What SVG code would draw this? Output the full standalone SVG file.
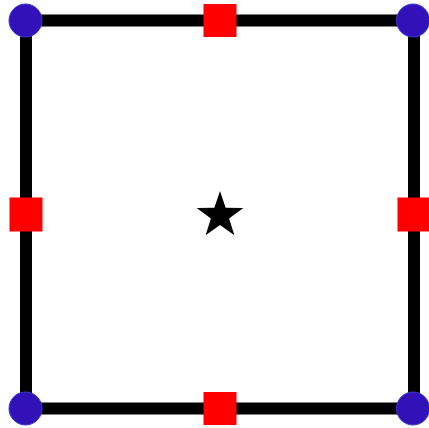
<svg xmlns="http://www.w3.org/2000/svg" width="429" height="428" viewBox="0 0 429 428">
<style>
.edge{fill:none;stroke:#000;stroke-width:12}
.corner{fill:#3311b8;stroke:#3a3ad0;stroke-width:1}
.mid{fill:#ff0000}
</style>
<rect width="429" height="428" fill="#fff"/>
<g id="connectors">
<rect class="edge" x="26" y="20.5" width="388" height="388"/>
</g>
<g id="c-tl"><circle class="corner" cx="25.5" cy="20.5" r="16.5"/></g>
<g id="c-tr"><circle class="corner" cx="413" cy="20.5" r="16.5"/></g>
<g id="c-bl"><circle class="corner" cx="25.5" cy="408.5" r="16.5"/></g>
<g id="c-br"><circle class="corner" cx="413" cy="408.5" r="16.5"/></g>
<g id="m-top"><rect class="mid" x="203.5" y="4" width="33" height="33"/></g>
<g id="m-bottom"><rect class="mid" x="203.5" y="392" width="33" height="33"/></g>
<g id="m-left"><rect class="mid" x="9.5" y="197.5" width="33" height="34"/></g>
<g id="m-right"><rect class="mid" x="397.5" y="197.5" width="33" height="34"/></g>
<g id="star"><polygon fill="#000" points="220,191 225.6,207.7 243.3,207.9 229.1,218.5 234.4,235.3 220,225.1 205.6,235.3 210.9,218.5 196.7,207.9 214.4,207.7"/></g>
</svg>
